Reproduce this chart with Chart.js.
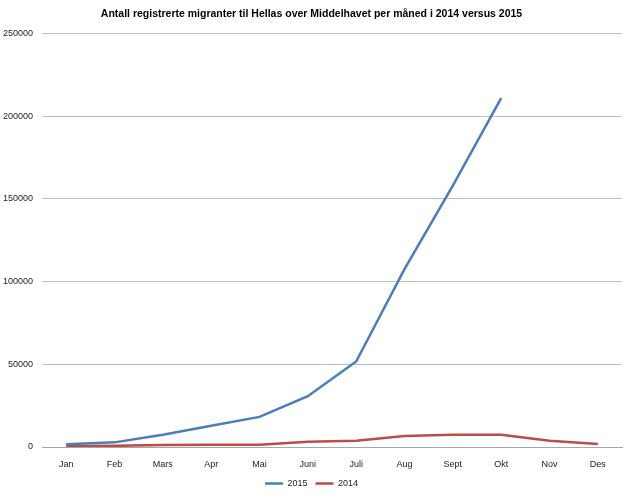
<!DOCTYPE html>
<html>
<head>
<meta charset="utf-8">
<script src="https://cdn.jsdelivr.net/npm/chart.js@4"></script>
<style>
  body { margin: 0; background: #fff; }
  #wrap { width: 628px; height: 498px; }
</style>
</head>
<body>
<div id="wrap"><canvas id="myChart" width="628" height="498"></canvas></div>
<script>
const months = ['Jan', 'Feb', 'Mars', 'Apr', 'Mai', 'Juni', 'Juli', 'Aug', 'Sept', 'Okt', 'Nov', 'Des'];
const values2015 = [1600, 2800, 7400, 12800, 18200, 30700, 51700, 107600, 158000, 211000, null, null];
const values2014 = [600, 700, 1200, 1300, 1300, 3200, 3800, 6600, 7400, 7400, 3800, 1800];
const yTicks = [0, 50000, 100000, 150000, 200000, 250000];

const fontFamily = "'Liberation Sans', 'DejaVu Sans', sans-serif";

const ctx = document.getElementById('myChart');
new Chart(ctx, {
  type: 'line',
  data: {
    labels: months,
    datasets: [{
      label: '2015',
      data: values2015,
      borderColor: '#4a7ebb',
      backgroundColor: '#4a7ebb',
      borderWidth: 2.5,
      pointRadius: 0,
      tension: 0
    }, {
      label: '2014',
      data: values2014,
      borderColor: '#be4b48',
      backgroundColor: '#be4b48',
      borderWidth: 2.5,
      pointRadius: 0,
      tension: 0
    }]
  },
  options: {
    responsive: false,
    animation: false,
    layout: { padding: { left: 1, right: 6, top: 2, bottom: 0 } },
    scales: {
      x: {
        offset: true,
        grid: { display: false, drawTicks: false },
        border: { color: '#a6a6a6', width: 1 },
        ticks: { color: '#222', font: { size: 9, family: fontFamily }, padding: 12 },
        afterFit: axis => { axis.height = 24; }
      },
      y: {
        min: 0,
        max: yTicks[yTicks.length - 1],
        afterBuildTicks: axis => { axis.ticks = yTicks.map(v => ({ value: v })); },
        grid: { color: '#bfbfbf', lineWidth: 1, drawTicks: false },
        border: { display: false },
        ticks: {
          color: '#222',
          font: { size: 9, family: fontFamily },
          padding: 9,
          callback: v => String(v)
        },
        afterFit: axis => { axis.width = 41; }
      }
    },
    plugins: {
      title: {
        display: true,
        text: 'Antall registrerte migranter til Hellas over Middelhavet per måned i 2014 versus 2015',
        color: '#000',
        font: { size: 10.5, weight: 'bold', family: fontFamily },
        padding: { top: 6, bottom: 13 }
      },
      legend: {
        position: 'bottom',
        labels: {
          usePointStyle: true,
          pointStyle: 'line',
          pointStyleWidth: 18,
          color: '#222',
          font: { size: 9, family: fontFamily },
          boxHeight: 3,
          padding: 8
        }
      },
      tooltip: { enabled: false }
    }
  }
});
</script>
</body>
</html>
